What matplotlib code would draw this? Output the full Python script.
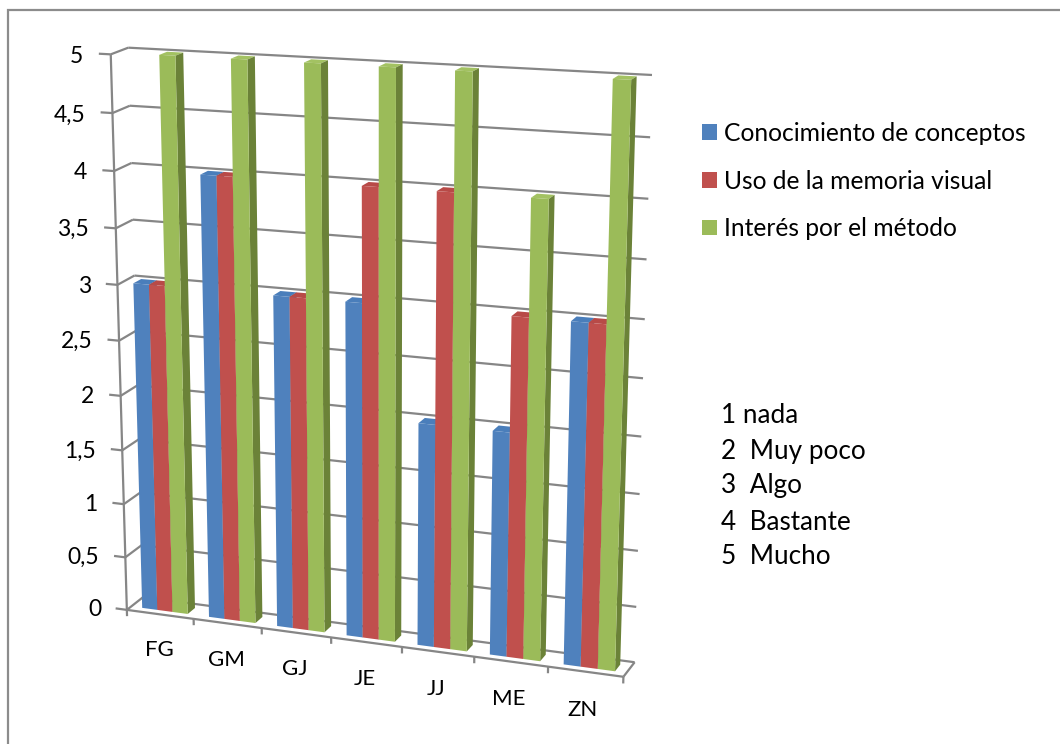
import numpy as np
import matplotlib
matplotlib.use('Agg')
import matplotlib.pyplot as plt
from matplotlib.patches import Patch, Rectangle
from mpl_toolkits.mplot3d.art3d import Line3DCollection

plt.rcParams['font.family'] = ['Lato', 'DejaVu Sans']

categories = ['FG', 'GM', 'GJ', 'JE', 'JJ', 'ME', 'ZN']
conocimiento = [3, 4, 3, 3, 2, 2, 3]
memoria = [3, 4, 3, 4, 4, 3, 3]
interes = [5, 5, 5, 5, 5, 4, 5]
series_names = ['Conocimiento de conceptos', 'Uso de la memoria visual', 'Interés por el método']
value_ticks = [0, 0.5, 1, 1.5, 2, 2.5, 3, 3.5, 4, 4.5, 5]
value_labels = ['0', '0,5', '1', '1,5', '2', '2,5', '3', '3,5', '4', '4,5', '5']
scale_notes = ['1 nada', '2  Muy poco', '3  Algo', '4  Bastante', '5  Mucho']

# front, top and side colours of each series
front_colors = ['#4f81bd', '#c0504d', '#9bbb59']
top_colors = ['#4a7ebb', '#b84a47', '#a3c262']
side_colors = ['#3a6291', '#8f3b39', '#6b8238']
grid_color = '#868686'

W, H = 1060, 744
n = len(categories)

# where the corners of the chart box land in the image: (category, depth, value) -> pixel
box_corners = [
    ((0, 0, 5), (111, 54)), ((0, 0, 0), (127, 610)),
    ((0, 1, 5), (128, 48)), ((0, 1, 0), (143, 597)),
    ((n, 1, 5), (652, 75)), ((n, 1, 0), (635, 662)),
    ((n, 0, 0), (623, 677)),
]


def fit_camera(corners):
    # plain DLT, gives a 3x4 matrix from box coordinates to image pixels
    rows, rhs = [], []
    for (x, y, z), (px, py) in corners:
        rows.append([x, y, z, 1, 0, 0, 0, 0, -px * x, -px * y, -px * z])
        rows.append([0, 0, 0, 0, x, y, z, 1, -py * x, -py * y, -py * z])
        rhs += [px, py]
    p = np.linalg.lstsq(np.array(rows, float), np.array(rhs, float), rcond=None)[0]
    return np.append(p, 1).reshape(3, 4)


def box_to_px(x, y, z):
    h = P @ np.array([x, y, z, 1.0])
    return h[0] / h[2], h[1] / h[2]


fig = plt.figure(figsize=(W / 100, H / 100), dpi=100, facecolor='white')
# Axes3D forces a square box, so make it as wide as the figure
ax = fig.add_axes([0, (H - W) / 2 / H, 1, W / H], projection='3d')
ax.set_axis_off()
ax.computed_zorder = False
ax.apply_aspect()

P = fit_camera(box_corners)
flip = np.array([[1, 0, 0], [0, -1, H], [0, 0, 1]], float)
Q = ax.transData.inverted().get_matrix() @ flip @ P
M = np.vstack([Q[0], Q[1], Q[2] + np.array([0, 1e-3, 0, 0]), Q[2]])
ax.get_proj = lambda: M

# grid, walls and ticks
segments = []
for v in value_ticks:
    segments.append([(0, 1, v), (n, 1, v)])
    segments.append([(0, 0, v), (0, 1, v)])
    segments.append([(-0.17, 0, v), (0, 0, v)])
segments.append([(0, 0, 0), (0, 0, 5)])
segments.append([(0, 0, 0), (n, 0, 0)])
segments.append([(n, 0, 0), (n, 1, 0)])
for i in range(n + 1):
    segments.append([(i, 0, 0), (i, 0, -0.06)])
ax.add_collection3d(Line3DCollection(segments, colors=grid_color, linewidths=1.6, zorder=1))

# bars, left to right so each one hides the side of its neighbour
bar_w = 0.228
bar_start = 0.165
none = (0, 0, 0, 0)
for s, vals in enumerate([conocimiento, memoria, interes]):
    faces = [none, top_colors[s], front_colors[s], none, none, side_colors[s]]
    xs = np.arange(n) + bar_start + s * bar_w
    ax.bar3d(xs, np.full(n, 0.27), np.zeros(n), bar_w, 0.46, vals,
             color=faces * n, shade=False, linewidth=0, zorder=2 + s)

for v, lab in zip(value_ticks, value_labels):
    px, py = box_to_px(-0.39, 0, v)
    fig.text(px / W, 1 - (py + 3.5) / H, lab, ha='right', va='center', fontsize=16.5, color='black')
for i, cat in enumerate(categories):
    px, py = box_to_px(i + 0.5, 0, -0.33)
    fig.text((px - 2) / W, 1 - (py + 1.5) / H, cat, ha='center', va='center', fontsize=16, color='black')

handles = [Patch(facecolor=c, edgecolor='none') for c in front_colors]
fig.legend(handles, series_names, loc='upper left', bbox_to_anchor=(702 / W, 1 - 122 / H),
           frameon=False, fontsize=17.7, handlelength=0.61, handleheight=0.61,
           handletextpad=0.28, labelspacing=1.0, borderpad=0, borderaxespad=0)

note_y = [416, 451, 486, 522, 557]
for txt, y in zip(scale_notes, note_y):
    fig.text(721 / W, 1 - y / H, txt, ha='left', va='center', fontsize=18.8, color='black')

fig.add_artist(Rectangle((8 / W, -0.01), 1.2, 1 - 10 / H + 0.01, transform=fig.transFigure,
                         fill=False, edgecolor='#8c8c8c', lw=1.6))

fig.savefig('out.png', dpi=100)
